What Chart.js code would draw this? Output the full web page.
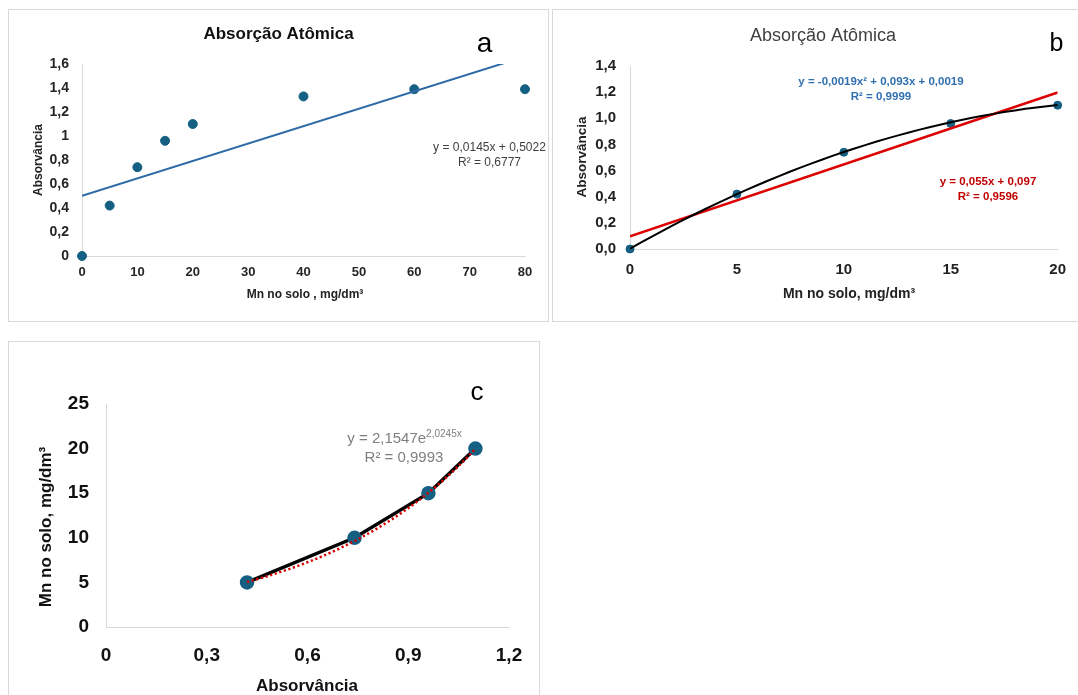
<!DOCTYPE html>
<html><head><meta charset="utf-8">
<script src="https://cdn.jsdelivr.net/npm/chart.js@4"></script>
<style>
html,body{margin:0;padding:0;background:#fff;overflow:hidden;width:1078px;height:695px;}
.frame{position:absolute;box-sizing:border-box;border:1px solid #d9d9d9;}
canvas{position:absolute;}
</style></head><body>
<div class="frame" style="left:8px;top:9px;width:541px;height:313px"></div>
<div class="frame" style="left:552px;top:9px;width:530px;height:313px"></div>
<div class="frame" style="left:8px;top:341px;width:532px;height:400px"></div>
<canvas id="ca" width="541" height="313" style="left:8px;top:9px"></canvas>
<canvas id="cb" width="526" height="313" style="left:552px;top:9px"></canvas>
<canvas id="cc" width="532" height="354" style="left:8px;top:341px"></canvas>
<script>
// ---------- Panel a ----------
const xA = [0, 5, 10, 15, 20, 40, 60, 80];
const yA = [0, 0.42, 0.74, 0.96, 1.10, 1.33, 1.39, 1.39];
const trendA = [0.0145, 0.5022];            // slope, intercept
const xTicksA = [0, 10, 20, 30, 40, 50, 60, 70, 80];
const yTicksA = [0, 0.2, 0.4, 0.6, 0.8, 1.0, 1.2, 1.4, 1.6];
const yLabelsA = ['0', '0,2', '0,4', '0,6', '0,8', '1', '1,2', '1,4', '1,6'];
const eqA = ['y = 0,0145x + 0,5022', 'R² = 0,6777'];

// ---------- Panel b ----------
const xB = [0, 5, 10, 15, 20];
const yB = [0, 0.42, 0.74, 0.96, 1.10];
const polyB = [-0.0019, 0.093, 0.0019];      // a x² + b x + c
const linB = [0.055, 0.097];                 // slope, intercept
const xTicksB = [0, 5, 10, 15, 20];
const yTicksB = [0, 0.2, 0.4, 0.6, 0.8, 1.0, 1.2, 1.4];
const yLabelsB = ['0,0', '0,2', '0,4', '0,6', '0,8', '1,0', '1,2', '1,4'];
const eqBpoly = ['y = -0,0019x² + 0,093x + 0,0019', 'R² = 0,9999'];
const eqBlin = ['y = 0,055x + 0,097', 'R² = 0,9596'];

// ---------- Panel c ----------
const xC = [0.42, 0.74, 0.96, 1.10];
const yC = [5, 10, 15, 20];
const expC = [2.1547, 2.0245];               // y = A e^(k x)
const xTicksC = [0, 0.3, 0.6, 0.9, 1.2];
const xLabelsC = ['0', '0,3', '0,6', '0,9', '1,2'];
const yTicksC = [0, 5, 10, 15, 20, 25];
const eqC = ['y = 2,1547e', '2,0245x', 'R² = 0,9993'];

const chartTitle = 'Absorção Atômica';
const axAbs = 'Absorvância';
const axMnA = 'Mn no solo , mg/dm³';
const axMnB = 'Mn no solo, mg/dm³';

const FAM = '"Liberation Sans", Arial, sans-serif';
Chart.defaults.font.family = FAM;

const textPlugin = {
  id: 'texts',
  afterDraw(chart, args, opts) {
    const ctx = chart.ctx;
    (opts.items || []).forEach(it => {
      ctx.save();
      ctx.translate(it.x, it.y);
      if (it.rot) ctx.rotate(it.rot * Math.PI / 180);
      const segs = Array.isArray(it.t) ? it.t : [{t: it.t}];
      let total = 0;
      segs.forEach(s => { ctx.font = s.sup ? it.supFont : it.font; s.w = ctx.measureText(s.t).width; total += s.w; });
      let x = -total / 2;
      ctx.fillStyle = it.color || '#000';
      ctx.textBaseline = 'alphabetic';
      ctx.textAlign = 'left';
      segs.forEach(s => { ctx.font = s.sup ? it.supFont : it.font; ctx.fillText(s.t, x, s.sup ? -it.supRise : 0); x += s.w; });
      ctx.restore();
    });
  }
};

function fixedTicks(arr) { return s => { s.ticks = arr.map(v => ({value: v})); }; }

function scales(o) {
  return {
    x: {
      type: 'linear', min: o.xmin, max: o.xmax,
      afterBuildTicks: fixedTicks(o.xTicks),
      afterFit: s => { s.height = o.H; },
      grid: {display: false, drawTicks: false},
      border: {display: true, color: '#d9d9d9', width: 1},
      ticks: {font: {size: o.xfs, weight: 'bold'}, color: o.tc, padding: o.xpad, maxRotation: 0,
              callback: (v, i) => o.xLabels ? o.xLabels[i] : String(v)}
    },
    y: {
      type: 'linear', min: o.ymin, max: o.ymax,
      afterBuildTicks: fixedTicks(o.yTicks),
      afterFit: s => { s.width = o.W; },
      grid: {display: false, drawTicks: false},
      border: {display: true, color: '#d9d9d9', width: 1},
      ticks: {font: {size: o.yfs, weight: 'bold'}, color: o.tc, padding: o.ypad,
              callback: (v, i) => o.yLabels ? o.yLabels[i] : String(v)}
    }
  };
}

const PT = '#156082';

// ---------- Chart a ----------
new Chart(document.getElementById('ca'), {
  type: 'scatter',
  data: {
    datasets: [
      {label: 'Tendência linear', data: [0, 80].map(x => ({x, y: trendA[0] * x + trendA[1]})),
       showLine: true, borderColor: '#2d6aa6', borderWidth: 2, pointRadius: 0, order: 0},
      {label: 'Absorvância', data: xA.map((x, i) => ({x, y: yA[i]})), clip: false,
       backgroundColor: PT, borderColor: PT, pointRadius: 4.5, order: 1}
    ]
  },
  options: {
    responsive: false, animation: false, events: [],
    layout: {padding: {left: 0, top: 55, right: 24, bottom: 0}},
    plugins: {legend: {display: false}, tooltip: {enabled: false},
      texts: {items: [
        {t: chartTitle, x: 270.5, y: 30, font: 'bold 17px ' + FAM, color: '#111'},
        {t: 'a', x: 476.5, y: 43, font: '28px ' + FAM, color: '#000'},
        {t: axAbs, x: 34, y: 151, rot: -90, font: 'bold 12px ' + FAM, color: '#222'},
        {t: axMnA, x: 297, y: 289, font: 'bold 12px ' + FAM, color: '#222'},
        {t: eqA[0], x: 481.5, y: 142, font: '12px ' + FAM, color: '#404040'},
        {t: eqA[1], x: 481.5, y: 157, font: '12px ' + FAM, color: '#404040'}
      ]}},
    scales: scales({xmin: 0, xmax: 80, ymin: 0, ymax: 1.6, xTicks: xTicksA, yTicks: yTicksA,
      yLabels: yLabelsA, H: 66, W: 74, xfs: 13, yfs: 14, xpad: 9, ypad: 13, tc: '#262626'})
  },
  plugins: [textPlugin]
});

// ---------- Chart b ----------
const polyXs = [];
for (let i = 0; i <= 40; i++) polyXs.push(i * 0.5);
new Chart(document.getElementById('cb'), {
  type: 'scatter',
  data: {
    datasets: [
      {label: 'Polinomial', data: polyXs.map(x => ({x, y: polyB[0] * x * x + polyB[1] * x + polyB[2]})),
       showLine: true, borderColor: '#000', borderWidth: 2, pointRadius: 0, order: 0},
      {label: 'Linear', data: [0, 20].map(x => ({x, y: linB[0] * x + linB[1]})),
       showLine: true, borderColor: '#dd0000', borderWidth: 2.5, pointRadius: 0, order: 1},
      {label: 'Absorvância', data: xB.map((x, i) => ({x, y: yB[i]})), clip: false,
       backgroundColor: PT, borderColor: PT, pointRadius: 4, order: 2}
    ]
  },
  options: {
    responsive: false, animation: false, events: [],
    layout: {padding: {left: 0, top: 57, right: 14, bottom: 0}},
    plugins: {legend: {display: false}, tooltip: {enabled: false},
      texts: {items: [
        {t: chartTitle, x: 271, y: 31.5, font: '18px ' + FAM, color: '#404040'},
        {t: 'b', x: 504.5, y: 41.5, font: '25px ' + FAM, color: '#000'},
        {t: axAbs, x: 34, y: 148, rot: -90, font: 'bold 13.5px ' + FAM, color: '#222'},
        {t: axMnB, x: 297, y: 289, font: 'bold 14px ' + FAM, color: '#222'},
        {t: eqBpoly[0], x: 329, y: 76, font: 'bold 11.5px ' + FAM, color: '#2f6fb0'},
        {t: eqBpoly[1], x: 329, y: 91, font: 'bold 11.5px ' + FAM, color: '#2f6fb0'},
        {t: eqBlin[0], x: 436, y: 176, font: 'bold 11.5px ' + FAM, color: '#c00000'},
        {t: eqBlin[1], x: 436, y: 191, font: 'bold 11.5px ' + FAM, color: '#c00000'}
      ]}},
    scales: scales({xmin: 0, xmax: 20, ymin: 0, ymax: 1.4, xTicks: xTicksB, yTicks: yTicksB,
      yLabels: yLabelsB, H: 73, W: 78, xfs: 15, yfs: 15, xpad: 12, ypad: 14, tc: '#222'})
  },
  plugins: [textPlugin]
});

// ---------- Chart c ----------
const expXs = [];
for (let i = 0; i <= 34; i++) expXs.push(xC[0] + (xC[xC.length - 1] - xC[0]) * i / 34);
new Chart(document.getElementById('cc'), {
  type: 'scatter',
  data: {
    datasets: [
      {label: 'Exponencial', data: expXs.map(x => ({x, y: expC[0] * Math.exp(expC[1] * x)})),
       showLine: true, borderColor: '#d40000', borderWidth: 2.5, borderDash: [2.2, 2.6], pointRadius: 0, order: 0},
      {label: 'Mn no solo', data: xC.map((x, i) => ({x, y: yC[i]})), showLine: true, clip: false,
       borderColor: '#000', borderWidth: 3.5, backgroundColor: PT, pointBorderColor: PT, pointRadius: 5.5, order: 1}
    ]
  },
  options: {
    responsive: false, animation: false, events: [],
    layout: {padding: {left: 0, top: 63, right: 31, bottom: 0}},
    plugins: {legend: {display: false}, tooltip: {enabled: false},
      texts: {items: [
        {t: 'c', x: 469, y: 59, font: '26px ' + FAM, color: '#000'},
        {t: axMnB, x: 42.5, y: 186, rot: -90, font: 'bold 17px ' + FAM, color: '#111'},
        {t: axAbs, x: 299, y: 350, font: 'bold 17px ' + FAM, color: '#111'},
        {t: [{t: eqC[0]}, {t: eqC[1], sup: true}], x: 396.5, y: 102, font: '15px ' + FAM,
         supFont: '10px ' + FAM, supRise: 6, color: '#7f7f7f'},
        {t: eqC[2], x: 396, y: 120.5, font: '15px ' + FAM, color: '#7f7f7f'}
      ]}},
    scales: scales({xmin: 0, xmax: 1.2, ymin: 0, ymax: 25, xTicks: xTicksC, yTicks: yTicksC,
      xLabels: xLabelsC, H: 68, W: 98, xfs: 19, yfs: 19, xpad: 17, ypad: 17, tc: '#111'})
  },
  plugins: [textPlugin]
});
</script>
</body></html>
